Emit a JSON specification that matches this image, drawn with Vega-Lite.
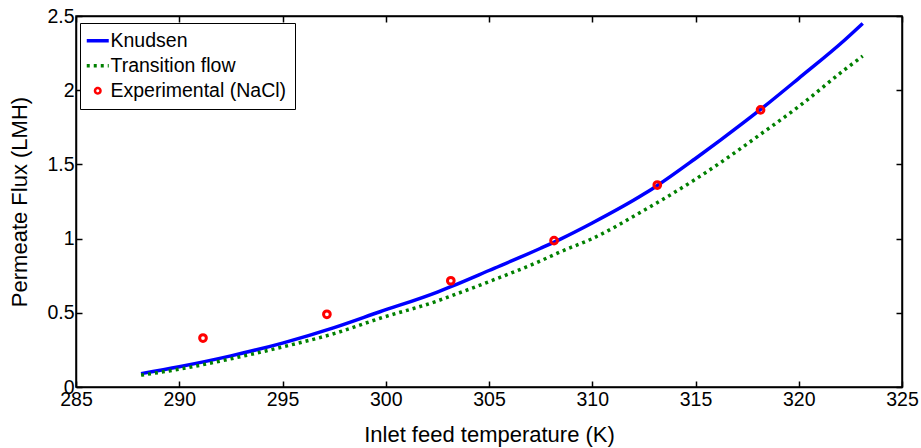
{
  "$schema": "https://vega.github.io/schema/vega-lite/v6.json",
  "width": 826,
  "height": 371,
  "autosize": {"type": "none"},
  "padding": {"left": 76, "top": 16, "right": 19, "bottom": 61},
  "background": "white",
  "config": {
    "font": "Liberation Sans",
    "view": {"stroke": "black", "strokeWidth": 1.5},
    "axis": {
      "domainColor": "black", "domainWidth": 1.5,
      "tickColor": "black", "tickWidth": 1.5, "tickSize": -6,
      "labelColor": "black", "labelFont": "Liberation Sans", "labelFontSize": 19.5,
      "titleFont": "Liberation Sans", "titleFontSize": 22, "titleFontWeight": "normal", "titleColor": "black",
      "grid": false, "labelOverlap": false, "labelFlush": false
    }
  },
  "datasets": {
    "knudsen": [
      {"T": 288.15, "flux": 0.09, "series": "Knudsen"},
      {"T": 290.0, "flux": 0.137, "series": "Knudsen"},
      {"T": 292.5, "flux": 0.21, "series": "Knudsen"},
      {"T": 295.0, "flux": 0.296, "series": "Knudsen"},
      {"T": 297.5, "flux": 0.40, "series": "Knudsen"},
      {"T": 299.72, "flux": 0.507, "series": "Knudsen"},
      {"T": 302.5, "flux": 0.64, "series": "Knudsen"},
      {"T": 303.15, "flux": 0.676, "series": "Knudsen"},
      {"T": 305.0, "flux": 0.785, "series": "Knudsen"},
      {"T": 307.5, "flux": 0.935, "series": "Knudsen"},
      {"T": 308.44, "flux": 0.995, "series": "Knudsen"},
      {"T": 310.0, "flux": 1.105, "series": "Knudsen"},
      {"T": 312.5, "flux": 1.30, "series": "Knudsen"},
      {"T": 313.12, "flux": 1.355, "series": "Knudsen"},
      {"T": 315.0, "flux": 1.54, "series": "Knudsen"},
      {"T": 316.19, "flux": 1.662, "series": "Knudsen"},
      {"T": 318.12, "flux": 1.867, "series": "Knudsen"},
      {"T": 320.0, "flux": 2.08, "series": "Knudsen"},
      {"T": 322.24, "flux": 2.34, "series": "Knudsen"},
      {"T": 323.1, "flux": 2.45, "series": "Knudsen"}
    ],
    "transition": [
      {"T": 288.15, "flux": 0.08, "series": "Transition flow"},
      {"T": 290.0, "flux": 0.12, "series": "Transition flow"},
      {"T": 292.5, "flux": 0.19, "series": "Transition flow"},
      {"T": 295.0, "flux": 0.27, "series": "Transition flow"},
      {"T": 297.5, "flux": 0.36, "series": "Transition flow"},
      {"T": 299.72, "flux": 0.463, "series": "Transition flow"},
      {"T": 302.5, "flux": 0.58, "series": "Transition flow"},
      {"T": 303.15, "flux": 0.613, "series": "Transition flow"},
      {"T": 305.0, "flux": 0.71, "series": "Transition flow"},
      {"T": 307.5, "flux": 0.85, "series": "Transition flow"},
      {"T": 308.44, "flux": 0.91, "series": "Transition flow"},
      {"T": 310.0, "flux": 1.0, "series": "Transition flow"},
      {"T": 312.5, "flux": 1.19, "series": "Transition flow"},
      {"T": 313.12, "flux": 1.24, "series": "Transition flow"},
      {"T": 315.0, "flux": 1.40, "series": "Transition flow"},
      {"T": 316.19, "flux": 1.51, "series": "Transition flow"},
      {"T": 318.12, "flux": 1.70, "series": "Transition flow"},
      {"T": 320.0, "flux": 1.89, "series": "Transition flow"},
      {"T": 322.24, "flux": 2.14, "series": "Transition flow"},
      {"T": 323.1, "flux": 2.23, "series": "Transition flow"}
    ],
    "exp": [
      {"T": 291.15, "flux": 0.33, "series": "Experimental (NaCl)"},
      {"T": 297.15, "flux": 0.49, "series": "Experimental (NaCl)"},
      {"T": 303.15, "flux": 0.716, "series": "Experimental (NaCl)"},
      {"T": 308.15, "flux": 0.986, "series": "Experimental (NaCl)"},
      {"T": 313.15, "flux": 1.361, "series": "Experimental (NaCl)"},
      {"T": 318.15, "flux": 1.867, "series": "Experimental (NaCl)"}
    ]
  },
  "layer": [
    {
      "data": {"name": "knudsen"},
      "mark": {"type": "line", "strokeWidth": 3.5, "clip": true, "interpolate": "monotone"},
      "encoding": {
        "x": {"field": "T", "type": "quantitative", "scale": {"domain": [285, 325], "nice": false},
              "axis": {"orient": "bottom", "values": [285, 290, 295, 300, 305, 310, 315, 320, 325], "format": "d", "title": "Inlet feed temperature (K)", "labelPadding": 9, "titlePadding": 16}},
        "y": {"field": "flux", "type": "quantitative", "scale": {"domain": [0, 2.5], "nice": false},
              "axis": {"orient": "left", "values": [0, 0.5, 1, 1.5, 2, 2.5], "format": "~g", "title": "Permeate Flux (LMH)", "labelPadding": 8, "titlePadding": 15}},
        "color": {"field": "series", "type": "nominal",
                  "scale": {"domain": ["Knudsen", "Transition flow", "Experimental (NaCl)"], "range": ["#0000ff", "#008000", "#ff0000"]},
                  "legend": {
                    "orient": "none", "legendX": 4, "legendY": 7, "title": null,
                    "strokeColor": "black", "fillColor": "white", "padding": 8,
                    "symbolSize": 484, "symbolType": "stroke", "symbolStrokeWidth": 3.5,
                    "labelFontSize": 19.5, "labelColor": "black", "labelFont": "Liberation Sans", "labelLimit": 400,
                    "rowPadding": 4, "labelOffset": 3,
                    "encode": {"symbols": {"update": {
                      "shape": {"signal": "datum.value === 'Experimental (NaCl)' ? 'circle' : 'stroke'"},
                      "size": {"signal": "datum.value === 'Experimental (NaCl)' ? 30 : 484"},
                      "strokeDash": {"signal": "datum.value === 'Transition flow' ? [3, 4] : [1, 0]"},
                      "strokeWidth": {"signal": "datum.value === 'Experimental (NaCl)' ? 2.5 : 3.5"},
                      "fill": {"value": "transparent"}
                    }}}
                  }}
      }
    },
    {
      "data": {"name": "transition"},
      "mark": {"type": "line", "strokeWidth": 3.5, "strokeDash": [3, 4], "clip": true, "interpolate": "monotone"},
      "encoding": {
        "x": {"field": "T", "type": "quantitative", "axis": null},
        "y": {"field": "flux", "type": "quantitative", "axis": null},
        "color": {"field": "series", "type": "nominal"}
      }
    },
    {
      "data": {"name": "exp"},
      "mark": {"type": "point", "filled": false, "strokeWidth": 3, "size": 45, "opacity": 1},
      "encoding": {
        "x": {"field": "T", "type": "quantitative", "axis": null},
        "y": {"field": "flux", "type": "quantitative", "axis": null},
        "color": {"field": "series", "type": "nominal"}
      }
    },
    {
      "data": {"name": "exp"},
      "mark": {"type": "point", "opacity": 0},
      "encoding": {
        "x": {"field": "T", "type": "quantitative",
              "axis": {"orient": "top", "values": [285, 290, 295, 300, 305, 310, 315, 320, 325], "labels": false, "title": null}},
        "y": {"field": "flux", "type": "quantitative",
              "axis": {"orient": "right", "values": [0, 0.5, 1, 1.5, 2, 2.5], "labels": false, "title": null}}
      }
    }
  ],
  "resolve": {"axis": {"x": "independent", "y": "independent"}}
}
